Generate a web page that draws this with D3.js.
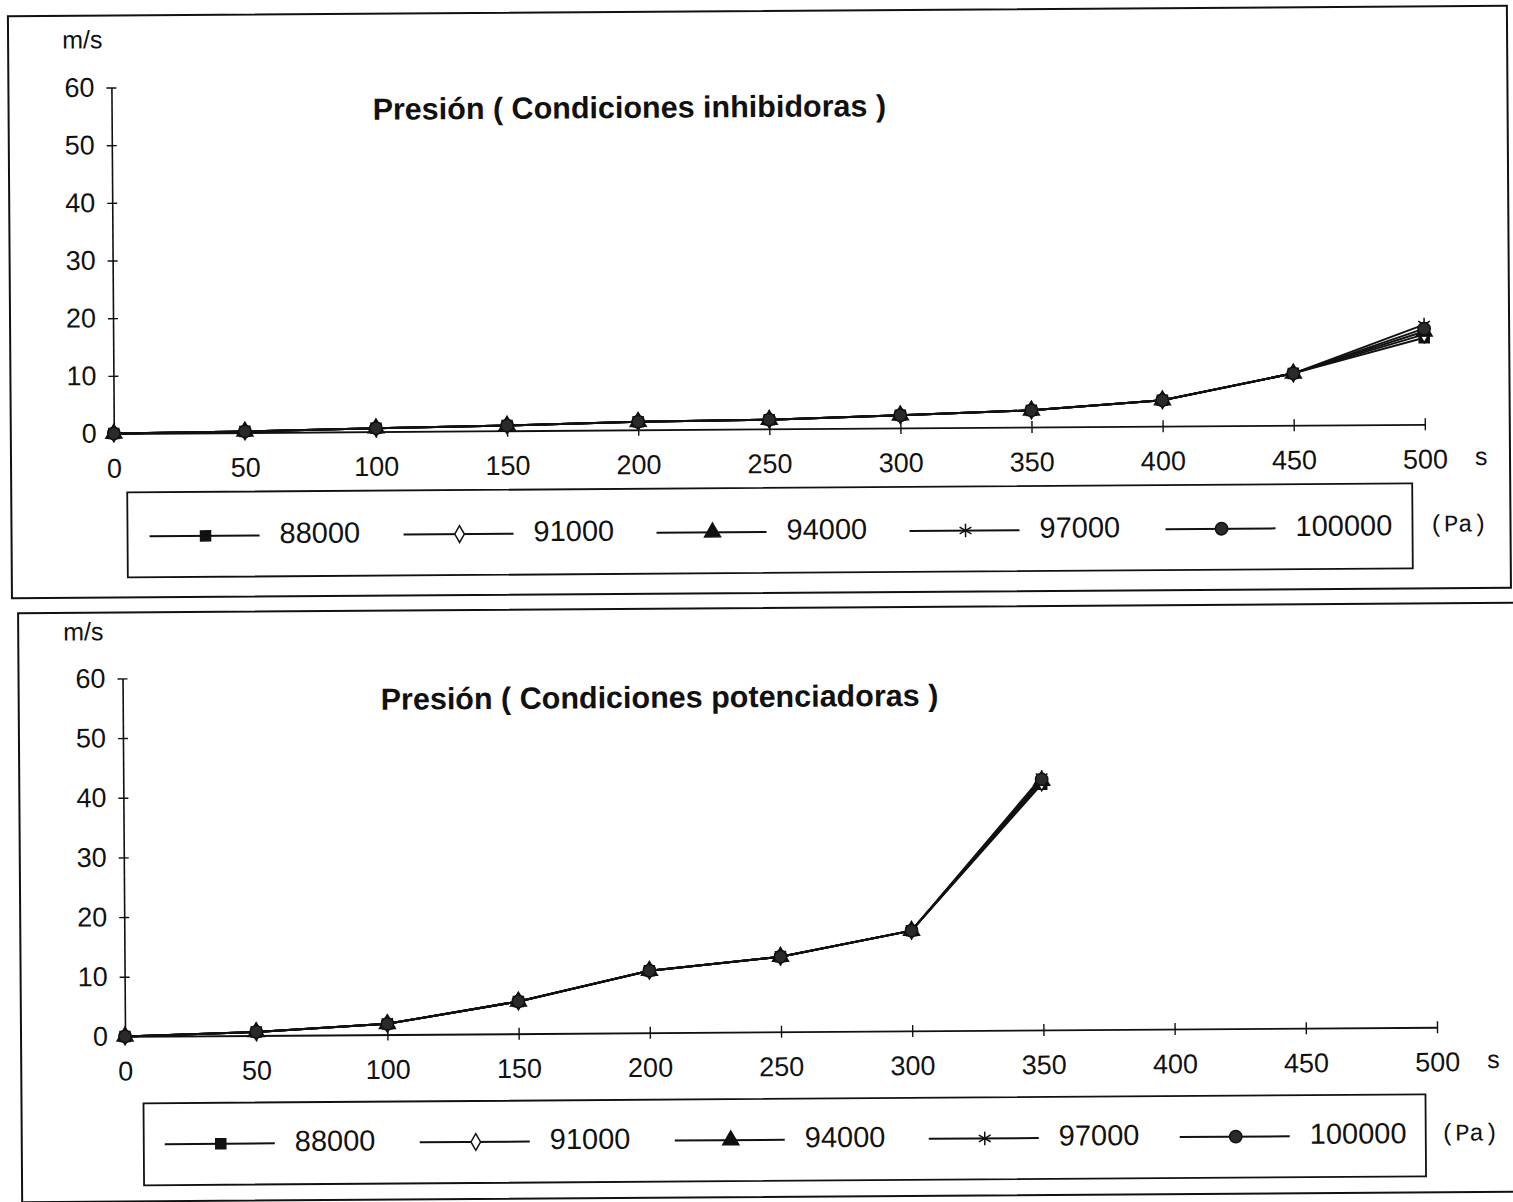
<!DOCTYPE html>
<html>
<head>
<meta charset="utf-8">
<script src="https://cdn.jsdelivr.net/npm/d3@7"></script>
<style>
  body { margin: 0; background: #fff; }
</style>
</head>
<body>
<div id="chart"></div>
<script>
// x values (s) and axis ticks
const times = [0, 50, 100, 150, 200, 250, 300, 350, 400, 450, 500];
const xTicks = [0, 50, 100, 150, 200, 250, 300, 350, 400, 450, 500];
const yTicks = [0, 10, 20, 30, 40, 50, 60];
const seriesNames = ["88000", "91000", "94000", "97000", "100000"];

// Condiciones inhibidoras (m/s)
const inhib88000  = [0, 0.2, 0.6, 0.9, 1.4, 1.6, 2.2, 2.9, 4.5, 9.0, 15.0];
const inhib91000  = [0, 0.2, 0.6, 0.9, 1.4, 1.6, 2.2, 2.9, 4.5, 9.0, 15.6];
const inhib94000  = [0, 0.2, 0.6, 0.9, 1.4, 1.6, 2.2, 2.9, 4.5, 9.0, 16.1];
const inhib97000  = [0, 0.2, 0.6, 0.9, 1.4, 1.6, 2.2, 2.9, 4.5, 9.0, 17.3];
const inhib100000 = [0, 0.2, 0.6, 0.9, 1.4, 1.6, 2.2, 2.9, 4.5, 9.0, 16.6];

// Condiciones potenciadoras (m/s), no values after 350 s
const poten88000  = [0, 0.6, 1.8, 5.4, 10.4, 12.6, 16.8, 41.2];
const poten91000  = [0, 0.6, 1.8, 5.4, 10.4, 12.6, 16.8, 41.5];
const poten94000  = [0, 0.6, 1.8, 5.4, 10.4, 12.6, 16.8, 41.8];
const poten97000  = [0, 0.6, 1.8, 5.4, 10.4, 12.6, 16.8, 42.4];
const poten100000 = [0, 0.6, 1.8, 5.4, 10.4, 12.6, 16.8, 42.0];

const W = 1513, H = 1202;
const SANS = "Liberation Sans, Arial, sans-serif";

const svg = d3.select("#chart").append("svg")
  .attr("width", W)
  .attr("height", H)
  .style("font-family", SANS);

// the scan is slightly tilted
const page = svg.append("g").attr("transform", "rotate(-0.4 756 600)");

const markers = {
  "88000":  {type: d3.symbolSquare,   size: 100, fill: "#111", stroke: "#111"},
  "91000":  {type: d3.symbolDiamond,  size: 80,  fill: "#fff", stroke: "#111"},
  "94000":  {type: d3.symbolTriangle, size: 110, fill: "#111", stroke: "#111"},
  "97000":  {type: d3.symbolAsterisk, size: 130, fill: "none", stroke: "#111"},
  "100000": {type: d3.symbolCircle,   size: 120, fill: "#2a2a2a", stroke: "#111"}
};

function drawChart(cfg) {
  const g = page.append("g");

  // outer frame
  g.append("rect")
    .attr("x", cfg.frame[0]).attr("y", cfg.frame[1])
    .attr("width", cfg.frame[2] - cfg.frame[0])
    .attr("height", cfg.frame[3] - cfg.frame[1])
    .attr("fill", "none").attr("stroke", "#111").attr("stroke-width", 2);

  var x = d3.scaleLinear().domain([0, 500]).range([cfg.x0, cfg.x1]);
  var y = d3.scaleLinear().domain([0, 60]).range([cfg.y0, cfg.yTop]);

  // y axis
  var yAxis = g.append("g")
    .attr("transform", `translate(${cfg.x0},0)`)
    .call(d3.axisLeft(y).tickValues(yTicks).tickSize(5).tickSizeOuter(0).tickPadding(12));
  yAxis.select(".domain").attr("stroke", "#111").attr("stroke-width", 1.6);
  yAxis.selectAll(".tick line").attr("x1", -5).attr("x2", 5).attr("stroke", "#111").attr("stroke-width", 1.4);
  yAxis.selectAll(".tick text")
    .attr("font-size", 27).attr("font-family", SANS).attr("fill", "#111");

  // x axis
  var xAxis = g.append("g")
    .attr("transform", `translate(0,${cfg.y0})`)
    .call(d3.axisBottom(x).tickValues(xTicks).tickSize(5).tickSizeOuter(0).tickPadding(20));
  xAxis.select(".domain").attr("stroke", "#111").attr("stroke-width", 1.8);
  xAxis.selectAll(".tick line").attr("y1", -6).attr("y2", 6).attr("stroke", "#111").attr("stroke-width", 1.4);
  xAxis.selectAll(".tick text")
    .attr("font-size", 27).attr("font-family", SANS).attr("fill", "#111");

  g.append("text")
    .attr("x", cfg.x1 + 50).attr("y", cfg.y0 + 41)
    .attr("font-size", 25).attr("fill", "#111")
    .text("s");

  g.append("text")
    .attr("x", cfg.msPos[0]).attr("y", cfg.msPos[1])
    .attr("font-size", 25).attr("fill", "#111")
    .attr("dominant-baseline", "middle")
    .text("m/s");

  g.append("text")
    .attr("x", cfg.titlePos[0]).attr("y", cfg.titlePos[1])
    .attr("font-size", 30.5).attr("font-weight", "bold").attr("fill", "#111")
    .attr("dominant-baseline", "middle")
    .text(cfg.title);

  // lines + markers
  var line = d3.line().x(d => x(d[0])).y(d => y(d[1]));
  cfg.series.forEach(function(vals, i) {
    var pts = vals.map((v, j) => [times[j], v]);
    g.append("path")
      .datum(pts)
      .attr("d", line)
      .attr("fill", "none")
      .attr("stroke", "#111")
      .attr("stroke-width", 2);
  });
  cfg.series.forEach(function(vals, i) {
    var m = markers[seriesNames[i]];
    var pts = vals.map((v, j) => [times[j], v]);
    g.append("g").selectAll("path")
      .data(pts)
      .join("path")
      .attr("transform", d => `translate(${x(d[0])},${y(d[1])})`)
      .attr("d", d3.symbol().type(m.type).size(m.size))
      .attr("fill", m.fill)
      .attr("stroke", m.stroke)
      .attr("stroke-width", 1.5);
  });

  // legend
  var lb = cfg.legendBox;
  g.append("rect")
    .attr("x", lb[0]).attr("y", lb[1])
    .attr("width", lb[2] - lb[0]).attr("height", lb[3] - lb[1])
    .attr("fill", "none").attr("stroke", "#111").attr("stroke-width", 1.8);

  var items = g.append("g").selectAll("g")
    .data(seriesNames)
    .join("g")
    .attr("transform", (d, i) => `translate(${cfg.legendMarkers[i]},${cfg.legendY})`);
  items.append("line")
    .attr("x1", -56).attr("x2", 54)
    .attr("stroke", "#111").attr("stroke-width", 2);
  items.append("path")
    .attr("d", d => d3.symbol().type(markers[d].type).size(markers[d].size)())
    .attr("fill", d => markers[d].fill)
    .attr("stroke", d => markers[d].stroke)
    .attr("stroke-width", 1.5);
  items.append("text")
    .attr("x", 74)
    .attr("font-size", 29).attr("fill", "#111")
    .attr("dominant-baseline", "middle")
    .text(d => d);

  g.append("text")
    .attr("x", cfg.paPos[0]).attr("y", cfg.paPos[1])
    .attr("font-size", 24).attr("fill", "#111")
    .style("font-family", "Liberation Mono, DejaVu Sans Mono, monospace")
    .attr("dominant-baseline", "middle")
    .text("(Pa)");
}

drawChart({
  frame: [12, 11, 1511, 593],
  x0: 115, x1: 1426, y0: 429, yTop: 83,
  msPos: [66, 37],
  title: "Presión ( Condiciones inhibidoras )",
  titlePos: [376, 109],
  series: [inhib88000, inhib91000, inhib94000, inhib97000, inhib100000],
  legendBox: [128, 488, 1413, 573],
  legendMarkers: [206, 460, 713, 966, 1222],
  legendY: 532,
  paPos: [1430, 530]
});

drawChart({
  frame: [18, 608, 1520, 1197],
  x0: 122, x1: 1434, y0: 1032, yTop: 674,
  msPos: [63, 629],
  title: "Presión ( Condiciones potenciadoras )",
  titlePos: [380, 699],
  series: [poten88000, poten91000, poten94000, poten97000, poten100000],
  legendBox: [140, 1099, 1422, 1181],
  legendMarkers: [217, 472, 727, 981, 1232],
  legendY: 1140,
  paPos: [1437, 1139]
});
</script>
</body>
</html>
